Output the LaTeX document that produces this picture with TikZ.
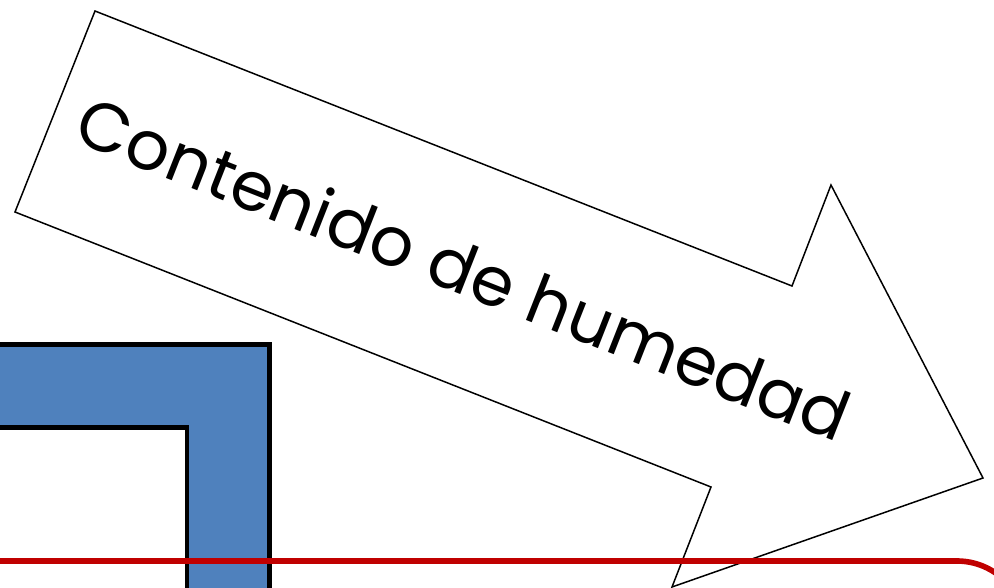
\documentclass[tikz,border=0pt]{standalone}
\usepackage{fontspec}
\setmainfont{Poppins}
\usetikzlibrary{positioning}
\definecolor{frameblue}{HTML}{4F81BD}
\definecolor{linered}{HTML}{C00000}
\tikzset{
  bigarrow/.style={draw=black, fill=white, line width=0.85pt, line join=miter},
  wall/.style={draw=black, line width=2.8pt},
  redline/.style={draw=linered, line width=3.2pt, rounded corners=1.36cm}
}
\newcommand{\arrowcorners}{
\coordinate (t0) at (95, 11);
\coordinate (n0) at (792, 286);
\coordinate (h0) at (831, 185);
\coordinate (tip) at (983, 478);
\coordinate (h1) at (672, 587);
\coordinate (n1) at (711, 487);
\coordinate (t1) at (15, 212);
}
\newcommand{\wallcorners}{
\coordinate (w0) at (-10, 344.5);
\coordinate (w1) at (269.5, 640);
\coordinate (w2) at (-10, 427.5);
\coordinate (w3) at (187, 640);
}

\begin{document}
\begin{tikzpicture}[x=0.02cm, y=-0.02cm]
\useasboundingbox (0, 0) rectangle (994, 588);
\clip (0, 0) rectangle (994, 588);

% corners
\arrowcorners
\wallcorners

% wall
\draw[wall, fill=frameblue] (w0) rectangle (w1);
\draw[wall, fill=white] (w2) rectangle (w3);

% arrow
\draw[bigarrow] (t0) -- (n0) -- (h0) -- (tip) -- (h1) -- (n1) -- (t1) -- cycle;
\node[rotate=-21.5, font=\fontsize{39}{46}\selectfont] (label) at (464, 268) {Contenido de humedad};

% red line
\coordinate (r0) at (-150, 561);
\coordinate (r1) at (1025, 720);
\draw[redline] (r0) rectangle (r1);
\end{tikzpicture}
\end{document}
